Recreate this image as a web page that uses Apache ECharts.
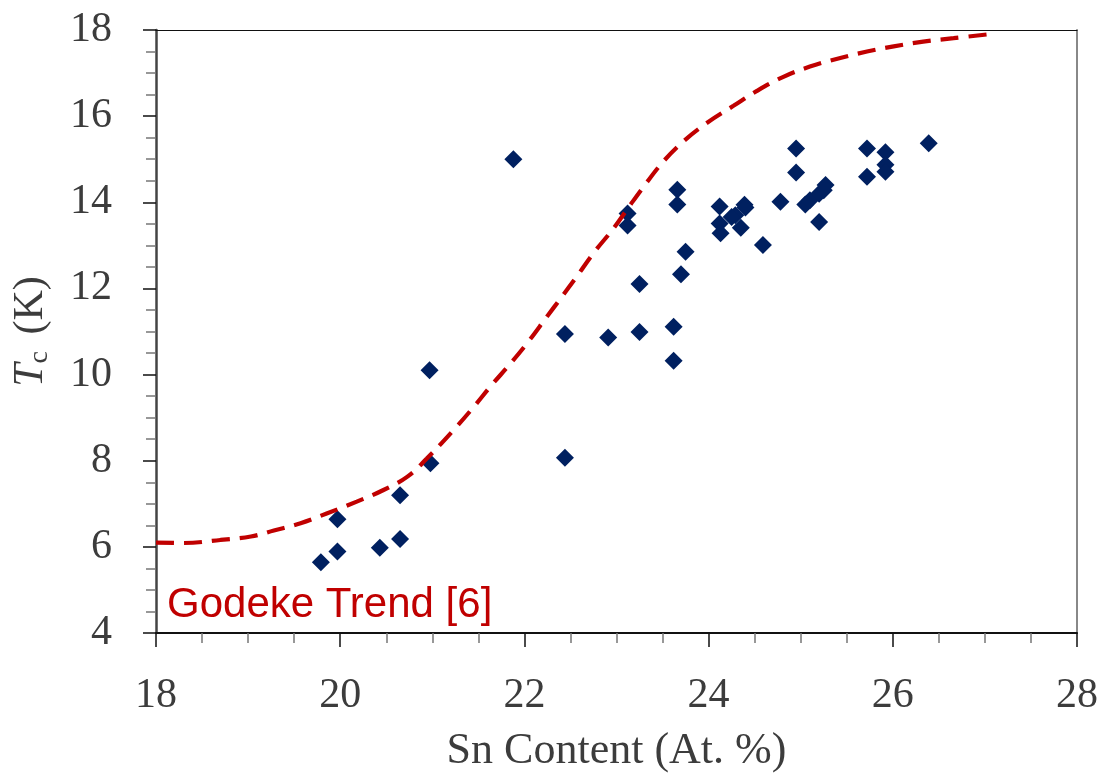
<!DOCTYPE html>
<html>
<head>
<meta charset="utf-8">
<script src="https://cdn.jsdelivr.net/npm/echarts@6/dist/echarts.min.js"></script>
<style>html,body{margin:0;padding:0;background:#fff}#c{width:1114px;height:778px}</style>
</head>
<body>
<div id="c"></div>
<script>
// Measured data: Sn content (at.%) vs Tc (K)
const snContent = [21.88, 20.97, 20.98, 22.44, 22.44, 22.91, 23.25, 23.25, 23.12, 23.12,
  23.62, 23.62, 23.66, 23.66, 23.75, 23.70, 24.12, 24.12, 24.13, 24.39, 24.40, 24.29, 24.25, 24.35,
  24.78, 24.59, 24.95, 24.95, 25.05, 25.10, 25.20, 25.25, 25.27, 25.20,
  25.72, 25.72, 25.92, 25.92, 25.92, 26.39,
  20.65, 19.97, 20.65, 20.43, 19.97, 19.79];
const tcValues = [15.00, 10.10, 7.94, 10.94, 8.07, 10.86, 12.10, 10.99, 13.74, 13.46,
  11.11, 10.32, 14.29, 13.95, 12.85, 12.33, 13.90, 13.51, 13.28, 13.94, 13.88, 13.70, 13.66, 13.41,
  14.01, 13.01, 15.25, 14.69, 13.95, 14.05, 14.20, 14.28, 14.40, 13.54,
  15.25, 14.59, 15.16, 14.87, 14.71, 15.37,
  7.20, 6.64, 6.18, 5.98, 5.89, 5.64];

// Godeke trend curve
const trendX = [18.0, 18.3, 18.7, 19.03, 19.28, 19.57, 19.86, 20.18, 20.47, 20.73, 20.94, 21.23, 21.45,
  21.63, 21.85, 22.03, 22.25, 22.39, 22.57, 22.75, 22.97, 23.13, 23.29, 23.51, 23.73, 23.98,
  24.27, 24.52, 24.80, 25.10, 25.43, 25.72, 26.01, 26.33, 26.66, 27.04];
const trendY = [6.10, 6.09, 6.16, 6.24, 6.38, 6.55, 6.78, 7.05, 7.32, 7.63, 8.05, 8.71, 9.25,
  9.72, 10.26, 10.73, 11.36, 11.76, 12.28, 12.82, 13.40, 13.88, 14.35, 14.95, 15.42, 15.84,
  16.24, 16.58, 16.90, 17.15, 17.35, 17.50, 17.62, 17.73, 17.81, 17.90];

const xTicks = [18, 20, 22, 24, 26, 28];
const yTicks = [4, 6, 8, 10, 12, 14, 16, 18];
const trendLabel = 'Godeke Trend [6]';

const serif = '"Liberation Serif", "Times New Roman", serif';
const txt = '#3c3c3c';
const chart = echarts.init(document.getElementById('c'), null, {renderer: 'canvas'});
chart.setOption({
  animation: false,
  backgroundColor: '#fff',
  grid: {left: 156, right: 37, top: 30, bottom: 145},
  xAxis: [{
    type: 'value', min: xTicks[0], max: xTicks[xTicks.length - 1], interval: 2,
    name: 'Sn Content (At. %)', nameLocation: 'middle', nameGap: 96,
    nameTextStyle: {fontFamily: serif, fontSize: 44, color: txt},
    axisLine: {lineStyle: {color: '#111', width: 2}},
    axisTick: {show: true, inside: false, length: 14, lineStyle: {color: '#111', width: 1.5}},
    minorTick: {show: true, splitNumber: 4, length: 10, lineStyle: {color: '#777', width: 1.5}},
    splitLine: {show: false},
    axisLabel: {fontFamily: serif, fontSize: 42, color: txt, margin: 42}
  }, {
    type: 'value', position: 'top', min: xTicks[0], max: xTicks[xTicks.length - 1],
    axisLine: {show: true, lineStyle: {color: '#111', width: 1.2}},
    axisTick: {show: false}, axisLabel: {show: false}, splitLine: {show: false}
  }],
  yAxis: [{
    type: 'value', min: yTicks[0], max: yTicks[yTicks.length - 1], interval: 2,
    name: '{t|T}{s|c} (K)', nameLocation: 'middle', nameGap: 102, nameRotate: 90,
    nameTextStyle: {
      fontFamily: serif, fontSize: 42, color: txt,
      rich: {
        t: {fontFamily: serif, fontSize: 42, fontStyle: 'italic', color: txt},
        s: {fontFamily: serif, fontSize: 28, color: txt, verticalAlign: 'bottom', padding: [18, 6, 0, 0]}
      }
    },
    axisLine: {lineStyle: {color: '#444', width: 2.5}},
    axisTick: {show: true, inside: false, length: 13, lineStyle: {color: '#111', width: 1.5}},
    minorTick: {show: true, splitNumber: 4, length: 10, lineStyle: {color: '#777', width: 1.5}},
    splitLine: {show: false},
    axisLabel: {fontFamily: serif, fontSize: 42, color: txt, margin: 44}
  }, {
    type: 'value', position: 'right', min: yTicks[0], max: yTicks[yTicks.length - 1],
    axisLine: {show: true, lineStyle: {color: '#888', width: 2}},
    axisTick: {show: false}, axisLabel: {show: false}, splitLine: {show: false}
  }],
  series: [
    {
      type: 'scatter', symbol: 'diamond', symbolSize: 18,
      itemStyle: {color: '#002060', opacity: 1},
      data: snContent.map((x, i) => [x, tcValues[i]]),
      z: 2
    },
    {
      type: 'line', smooth: 0.4, showSymbol: false,
      lineStyle: {color: '#C00000', width: 4.2, type: [18, 10]},
      data: trendX.map((x, i) => [x, trendY[i]]),
      z: 3
    }
  ],
  graphic: [{
    type: 'text', left: 167, top: 584, z: 10,
    style: {text: trendLabel, fill: '#C00000', font: '42px "Liberation Sans", Arial, sans-serif'}
  }]
});
</script>
</body>
</html>
